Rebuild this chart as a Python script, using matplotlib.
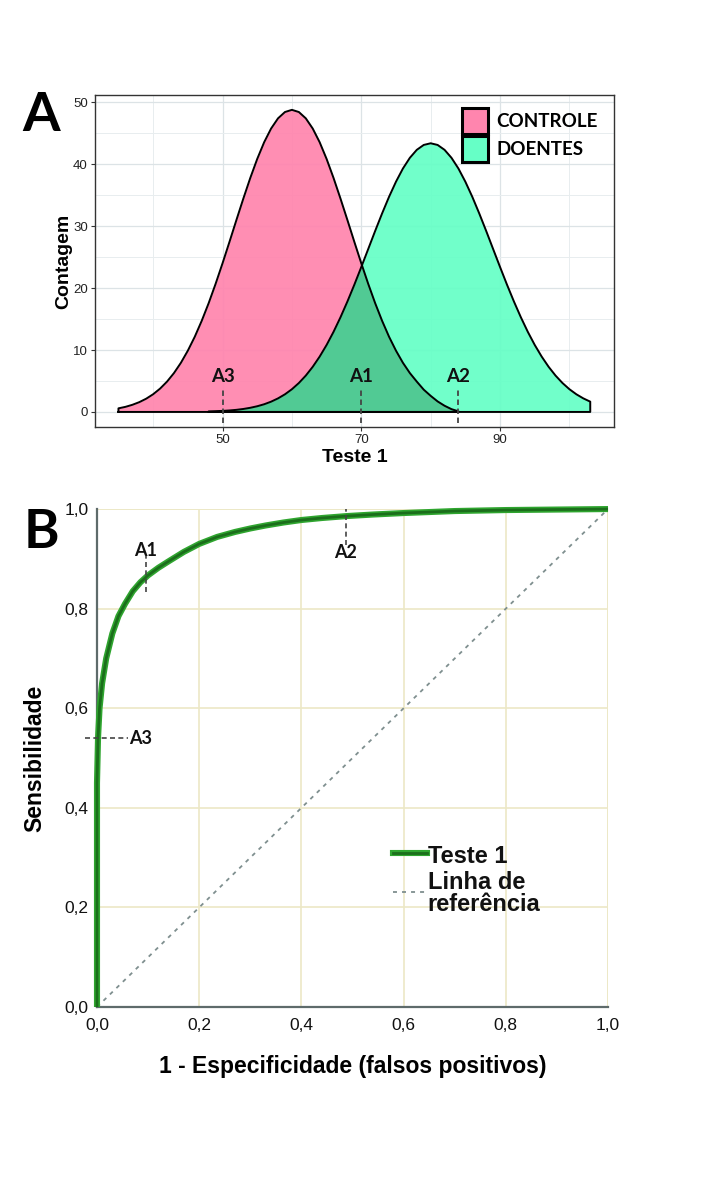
import matplotlib
matplotlib.use("Agg")
import matplotlib.pyplot as plt
from matplotlib.patches import Patch
import numpy as np

NA = np.nan
# ---------------- Data ----------------
# Panel A: density curves (Teste 1), x = 35..103
teste_x = list(range(35, 104))
controle_y = [0.58, 0.82, 1.15, 1.58, 2.14, 2.86, 3.77, 4.90, 6.28, 7.94,
              9.90, 12.15, 14.72, 17.57, 20.69, 24.01, 27.47, 31.00, 34.47, 37.80,
              40.87, 43.57, 45.78, 47.43, 48.45, 48.8, 48.45, 47.43, 45.78, 43.57,
              40.87, 37.80, 34.47, 31.00, 27.47, 24.01, 20.69, 17.57, 14.72, 12.15,
              9.90, 7.94, 6.28, 4.90, 3.6, 2.6, 1.7, 1.0, 0.45, 0.1,
              NA, NA, NA, NA, NA, NA, NA, NA, NA, NA, NA, NA, NA, NA, NA, NA, NA, NA, NA]
doentes_y = [NA, NA, NA, NA, NA, NA, NA, NA, NA, NA, NA, NA, NA,
             0.08, 0.12, 0.17, 0.24, 0.34, 0.48, 0.67, 0.92, 1.24, 1.66,
             2.19, 2.85, 3.67, 4.67, 5.87, 7.29, 8.94, 10.82, 12.94, 15.29,
             17.84, 20.56, 23.41, 26.32, 29.24, 32.07, 34.75, 37.19, 39.32, 41.05,
             42.34, 43.13, 43.4, 43.13, 42.34, 41.05, 39.32, 37.19, 34.75, 32.07,
             29.24, 26.32, 23.41, 20.56, 17.84, 15.29, 12.94, 10.82, 8.94, 7.29,
             5.87, 4.67, 3.67, 2.85, 2.19, 1.66]
series_names = ["CONTROLE", "DOENTES"]
cutoff_names = ["A3", "A1", "A2"]
cutoff_values = [50, 70, 84]

# Panel B: ROC curve
fpr = [0.0, 0.0, 0.002, 0.005, 0.01, 0.018, 0.03, 0.042, 0.055, 0.07, 0.085, 0.1,
       0.12, 0.14, 0.17, 0.2, 0.235, 0.27, 0.3, 0.33, 0.365, 0.4, 0.44, 0.49,
       0.54, 0.6, 0.65, 0.7, 0.8, 0.9, 1.0]
tpr = [0.0, 0.45, 0.54, 0.6, 0.65, 0.7, 0.75, 0.785, 0.81, 0.835, 0.853, 0.867,
       0.882, 0.895, 0.914, 0.930, 0.944, 0.954, 0.961, 0.967, 0.973, 0.978, 0.982, 0.986,
       0.989, 0.992, 0.994, 0.996, 0.998, 0.999, 1.0]
ref_line = [0.0, 1.0]
roc_ticks = [0.0, 0.2, 0.4, 0.6, 0.8, 1.0]
roc_ticklabels = ["0,0", "0,2", "0,4", "0,6", "0,8", "1,0"]

# ---------------- Figure ----------------
fig = plt.figure(figsize=(7.08, 11.8), dpi=100)

# ---------- Panel A ----------
axA = fig.add_axes([0.134, 0.6381, 0.733, 0.2814])
x = np.array(teste_x, dtype=float)
c = np.array(controle_y, dtype=float)
d = np.array(doentes_y, dtype=float)

pink = "#FF85AE"
aqua = "#66FFC6"
overlap = "#50C993"

mc = ~np.isnan(c)
md = ~np.isnan(d)
axA.fill_between(x[mc], 0, c[mc], color=pink, lw=0, zorder=2, alpha=0.93)
axA.fill_between(x[md], 0, d[md], color=aqua, lw=0, zorder=2, alpha=0.93)
both = mc & md
ov = np.fmin(c, d)
axA.fill_between(x[both], 0, ov[both], color=overlap, lw=0, zorder=3, alpha=0.97)

# outlines
for yy, m in ((c, mc), (d, md)):
    xs = np.concatenate([[x[m][0]], x[m], [x[m][-1], x[m][0]]])
    ys = np.concatenate([[0], yy[m], [0, 0]])
    axA.plot(xs, ys, color="black", lw=1.4, zorder=5, solid_joinstyle="round")

axA.set_xlim(31.6, 106.4)
axA.set_ylim(-2.44, 51.2)
axA.set_xticks([50, 70, 90])
axA.set_xticks([40, 60, 80, 100], minor=True)
axA.set_yticks([0, 10, 20, 30, 40, 50])
axA.set_yticks([5, 15, 25, 35, 45], minor=True)
axA.grid(True, which="major", color="#DCE3E6", lw=0.9, zorder=1)
axA.grid(True, which="minor", color="#E8EDEF", lw=0.7, zorder=1)
axA.tick_params(which="minor", length=0)
axA.tick_params(which="major", length=3, width=0.8, color="#333333",
                labelsize=9.5, labelcolor="#222222", pad=2)
for sp in axA.spines.values():
    sp.set_color("#333333")
    sp.set_linewidth(1.0)
for lab in axA.get_xticklabels() + axA.get_yticklabels():
    lab.set_family("Liberation Sans")
axA.set_xlabel("Teste 1", fontsize=14, fontweight="bold", family="Liberation Sans", labelpad=2)
axA.set_ylabel("Contagem", fontsize=14, fontweight="bold", family="Liberation Sans",
               labelpad=0.8)

for name, xv in zip(cutoff_names, cutoff_values):
    axA.plot([xv, xv], [-1.8, 3.9], color="#444444", lw=1.3, ls=(0, (3, 2)), zorder=6)
    axA.text(xv, 4.4, name, ha="center", va="bottom", fontsize=13.5, fontweight="bold",
             family="Lato", color="#111111", zorder=7)

# legend A
handles = [Patch(facecolor=pink, edgecolor="black", lw=2.2),
           Patch(facecolor=aqua, edgecolor="black", lw=2.2)]
axA.legend(handles, series_names, loc="upper right", bbox_to_anchor=(0.995, 1.0),
           frameon=False, handlelength=1.4, handleheight=1.75, handletextpad=0.45,
           labelspacing=0.12, prop={"family": "Lato", "weight": "bold", "size": 13.5},
           borderpad=0.2)

fig.text(0.058, 0.902, "A", fontsize=39, fontweight="bold", family="Lato",
         ha="center", va="center")

# ---------- Panel B ----------
axB = fig.add_axes([0.137, 0.1466, 0.7218, 0.422])
axB.plot(ref_line, ref_line, color="#7F8F8F", lw=1.3, ls=(0, (2.2, 2.8)), zorder=3)
axB.plot(fpr, tpr, color="#2FA52F", lw=4.4, zorder=4, clip_on=False,
         solid_capstyle="butt", solid_joinstyle="round")
axB.plot(fpr, tpr, color="#1B6E1B", lw=2.0, zorder=5, clip_on=False,
         solid_capstyle="butt", solid_joinstyle="round")

axB.set_xlim(0, 1)
axB.set_ylim(0, 1)
axB.set_xticks(roc_ticks)
axB.set_xticklabels(roc_ticklabels)
axB.set_yticks(roc_ticks)
axB.set_yticklabels(roc_ticklabels)
axB.grid(True, color="#ECE8C6", lw=1.2, zorder=1)
axB.set_axisbelow(True)
axB.tick_params(axis="x", length=0, labelsize=12.5, labelcolor="#111111", pad=8)
axB.tick_params(axis="y", length=0, labelsize=12.5, labelcolor="#111111", pad=6)
for lab in axB.get_xticklabels() + axB.get_yticklabels():
    lab.set_family("Liberation Sans")
for s in ["top", "right"]:
    axB.spines[s].set_visible(False)
for s in ["left", "bottom"]:
    axB.spines[s].set_color("#5E6B6B")
    axB.spines[s].set_linewidth(1.6)
    axB.spines[s].set_zorder(2)
axB.axhline(1.0, color="#ECE8C6", lw=1.2, zorder=1)
axB.axvline(1.0, color="#ECE8C6", lw=1.2, zorder=1)

axB.set_xlabel("1 - Especificidade (falsos positivos)", fontsize=16.5, fontweight="bold",
               family="Liberation Sans", labelpad=16)
axB.set_ylabel("Sensibilidade", fontsize=16.5, fontweight="bold",
               family="Liberation Sans", labelpad=13)

# cut-off marks on ROC
axB.plot([0.096, 0.096], [0.833, 0.905], color="#444444", lw=1.2, ls=(0, (3, 2)), zorder=6)
axB.text(0.096, 0.917, "A1", ha="center", va="center", fontsize=13, fontweight="bold",
         family="Lato", color="#111111")
axB.plot([0.487, 0.487], [0.928, 1.0], color="#444444", lw=1.2, ls=(0, (3, 2)), zorder=6)
axB.text(0.487, 0.912, "A2", ha="center", va="center", fontsize=13, fontweight="bold",
         family="Lato", color="#111111")
axB.plot([-0.023, 0.06], [0.54, 0.54], color="#444444", lw=1.2, ls=(0, (3, 2)),
         zorder=6, clip_on=False)
axB.text(0.062, 0.54, "A3", ha="left", va="center", fontsize=13, fontweight="bold",
         family="Lato", color="#111111")

# legend B
axB.plot([0.58, 0.645], [0.31, 0.31], color="#2FA52F", lw=4.4, zorder=5)
axB.plot([0.58, 0.645], [0.31, 0.31], color="#1B6E1B", lw=2.0, zorder=6)
axB.text(0.647, 0.303, "Teste 1", ha="left", va="center", fontsize=17, fontweight="bold",
         family="Liberation Sans", color="#111111")
axB.plot([0.58, 0.645], [0.23, 0.23], color="#7F8F8F", lw=1.3, ls=(0, (2.2, 2.8)), zorder=5)
axB.text(0.647, 0.250, "Linha de", ha="left", va="center", fontsize=17,
         fontweight="bold", family="Liberation Sans", color="#111111")
axB.text(0.647, 0.205, "referência", ha="left", va="center", fontsize=17,
         fontweight="bold", family="Liberation Sans", color="#111111")

fig.text(0.059, 0.549, "B", fontsize=39, fontweight="bold", family="Lato",
         ha="center", va="center")

fig.savefig("out.png", dpi=100)
